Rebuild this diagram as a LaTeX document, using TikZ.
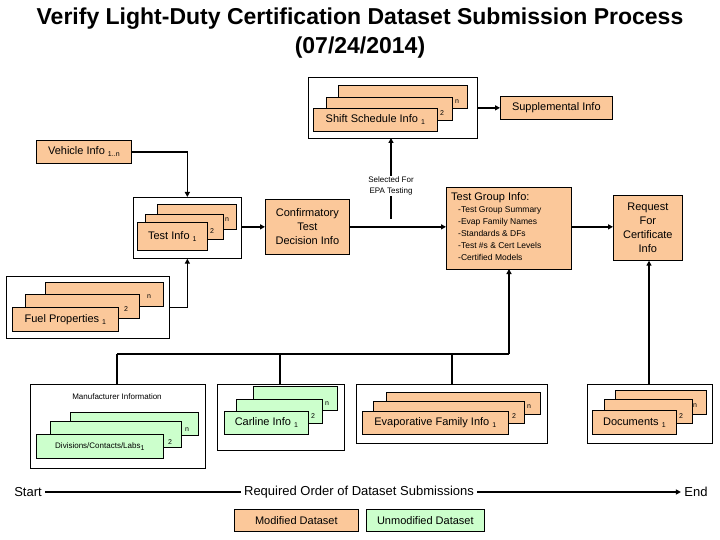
\documentclass[tikz,border=0pt]{standalone}
\usepackage{fontspec}
\setmainfont{Liberation Sans}
\usetikzlibrary{arrows.meta}
\definecolor{mod}{HTML}{FBC89A}
\definecolor{unm}{HTML}{CCFFCC}
\newcommand\sbs[1]{\raisebox{-2pt}{\fontsize{7}{7}\selectfont #1}}
\newcommand\crd[7]{\node[#1,anchor=north west,minimum width=#5pt,minimum height=#6pt] (#2) at (#3,#4) {#7};}
\begin{document}
\begin{tikzpicture}[x=1pt,y=-1pt,
 box/.style={draw,line width=0.7pt,fill=white,inner sep=0pt},
 m/.style={draw,line width=0.7pt,fill=mod,inner sep=1pt,font=\fontsize{11}{12}\selectfont},
 u/.style={draw,line width=0.7pt,fill=unm,inner sep=1pt,font=\fontsize{11}{12}\selectfont},
 lab/.style={font=\fontsize{7}{7}\selectfont,inner sep=0pt},
 con/.style={line width=1.6pt},
 arr/.style={line width=1.6pt,-{Triangle[length=5pt,width=5pt]}}]
\useasboundingbox (0,0) rectangle (720,540);
\node[font=\bfseries\fontsize{23}{29}\selectfont,align=center] (title) at (360,33) {Verify Light-Duty Certification Dataset Submission Process\\(07/24/2014)};
% shift schedule
\crd{box}{shb}{308}{77}{169}{61}{}
\crd{m}{sh3}{338}{85}{129}{23}{}
\crd{m}{sh2}{326}{97}{126}{23}{}
\crd{m}{sh1}{313}{108}{124}{23}{Shift Schedule Info \sbs{1}}
\node[lab] (shn) at (457,102) {n};
\node[lab] (sh2l) at (442,113) {2};
\crd{m}{sup}{500}{96}{112}{23}{Supplemental Info}
\draw[arr] (shb.east |- sup) -- (sup);
% vehicle
\crd{m}{veh}{36}{140}{95}{23}{Vehicle Info \sbs{1..n}}
% test info
\crd{box}{tib}{133}{197}{108}{61}{}
\crd{m}{ti3}{157}{204}{79}{25}{}
\crd{m}{ti2}{145}{214}{78}{25}{}
\crd{m}{ti1}{137}{222}{70}{28}{Test Info \sbs{1}}
\node[lab] (tin) at (227,220) {n};
\node[lab] (ti2l) at (212,231) {2};
\draw[arr] (veh.east) -| (tib.north);
% fuel
\crd{box}{fub}{6}{276}{163}{62}{}
\crd{m}{fu3}{45}{282}{118}{24}{}
\crd{m}{fu2}{25}{294}{114}{24}{}
\crd{m}{fu1}{12}{307}{106}{24}{Fuel Properties \sbs{1}}
\node[lab] (fun) at (149,297) {n};
\node[lab] (fu2l) at (126,309) {2};
\draw[arr] (fub.east) -| (tib.south);
% confirmatory
\crd{m}{conf}{265}{199}{84}{55}{}
\node[align=center,font=\fontsize{11}{14}\selectfont] (conft) at (conf.center) {Confirmatory\\Test\\Decision Info};
\draw[arr] (tib.east |- conf) -- (conf.west);
% test group
\crd{m}{tg}{446}{187}{125}{82}{}
\node[anchor=north west,font=\fontsize{11}{12}\selectfont,inner sep=0pt] (tgt) at (451,192) {Test Group Info:};
\node[anchor=north west,align=left,font=\fontsize{8.5}{12}\selectfont,inner sep=0pt] (tgl) at (458,206) {-Test Group Summary\\-Evap Family Names\\-Standards \& DFs\\-Test \#s \& Cert Levels\\-Certified Models};
\coordinate (br) at (391,219);
\draw[arr] (conf.east) -- (tg.west |- conf);
\draw[arr] (br) -- (391,138);
\node[align=center,font=\fontsize{8}{11}\selectfont,fill=white,inner sep=1pt] (sel) at (391,186) {Selected For\\EPA Testing};
% request
\crd{m}{req}{613}{195}{69}{65}{}
\node[align=center,font=\fontsize{11}{14}\selectfont] (reqt) at (req.center) {Request\\For\\Certificate\\Info};
\draw[arr] (tg.east |- conf) -- (req.west |- conf);
% manufacturer
\crd{box}{mab}{30}{384}{175}{84}{}
\node[font=\fontsize{8}{9}\selectfont] (mat) at (117,397) {Manufacturer Information};
\crd{u}{ma3}{70}{412}{128}{23}{}
\crd{u}{ma2}{50}{421}{131}{26}{}
\crd{u}{ma1}{36}{434}{127}{24}{\fontsize{8}{9}\selectfont Divisions/Contacts/Labs\sbs{1}}
\node[lab] (man) at (187,430) {n};
\node[lab] (ma2l) at (170,442) {2};
% carline
\crd{box}{cab}{217}{384}{127}{66}{}
\crd{u}{ca3}{253}{386}{84}{24}{}
\crd{u}{ca2}{236}{399}{86}{24}{}
\crd{u}{ca1}{224}{411}{84}{23}{Carline Info \sbs{1}}
\node[lab] (can) at (327,404) {n};
\node[lab] (ca2l) at (313,416) {2};
% evap
\crd{box}{evb}{356}{384}{191}{59}{}
\crd{m}{ev3}{386}{392}{154}{22}{}
\crd{m}{ev2}{373}{401}{151}{22}{}
\crd{m}{ev1}{362}{411}{146}{23}{Evaporative Family Info \sbs{1}}
\node[lab] (evn) at (529,407) {n};
\node[lab] (ev2l) at (514,416) {2};
% documents
\crd{box}{dob}{587}{384}{125}{59}{}
\crd{m}{do3}{615}{390}{91}{24}{}
\crd{m}{do2}{604}{399}{88}{24}{}
\crd{m}{do1}{592}{410}{84}{24}{Documents \sbs{1}}
\node[lab] (don) at (695,406) {n};
\node[lab] (do2l) at (681,416) {2};
% bus
\coordinate (bus) at (509,354);
\draw[arr] (bus) -- (509,269);
\draw[con] (117,354) -- (bus);
\draw[con] (117,354) -- (mab.north -| 117,0);
\draw[con] (280,354) -- (280,384);
\draw[con] (452,354) -- (452,384);
\draw[arr] (dob.north -| 649,0) -- (req.south -| 649,0);
% timeline
\node[font=\fontsize{13}{14}\selectfont] (st) at (28,492) {Start};
\node[font=\fontsize{13}{14}\selectfont] (ord) at (359,492) {Required Order of Dataset Submissions};
\node[font=\fontsize{13}{14}\selectfont] (en) at (696,492) {End};
\draw[con] (st.east) -- (ord.west);
\draw[arr] (ord.east) -- (en.west);
% legend
\crd{m}{lm}{234}{509}{124}{22}{Modified Dataset}
\crd{u}{lu}{366}{509}{118}{22}{Unmodified Dataset}
\end{tikzpicture}
\end{document}
